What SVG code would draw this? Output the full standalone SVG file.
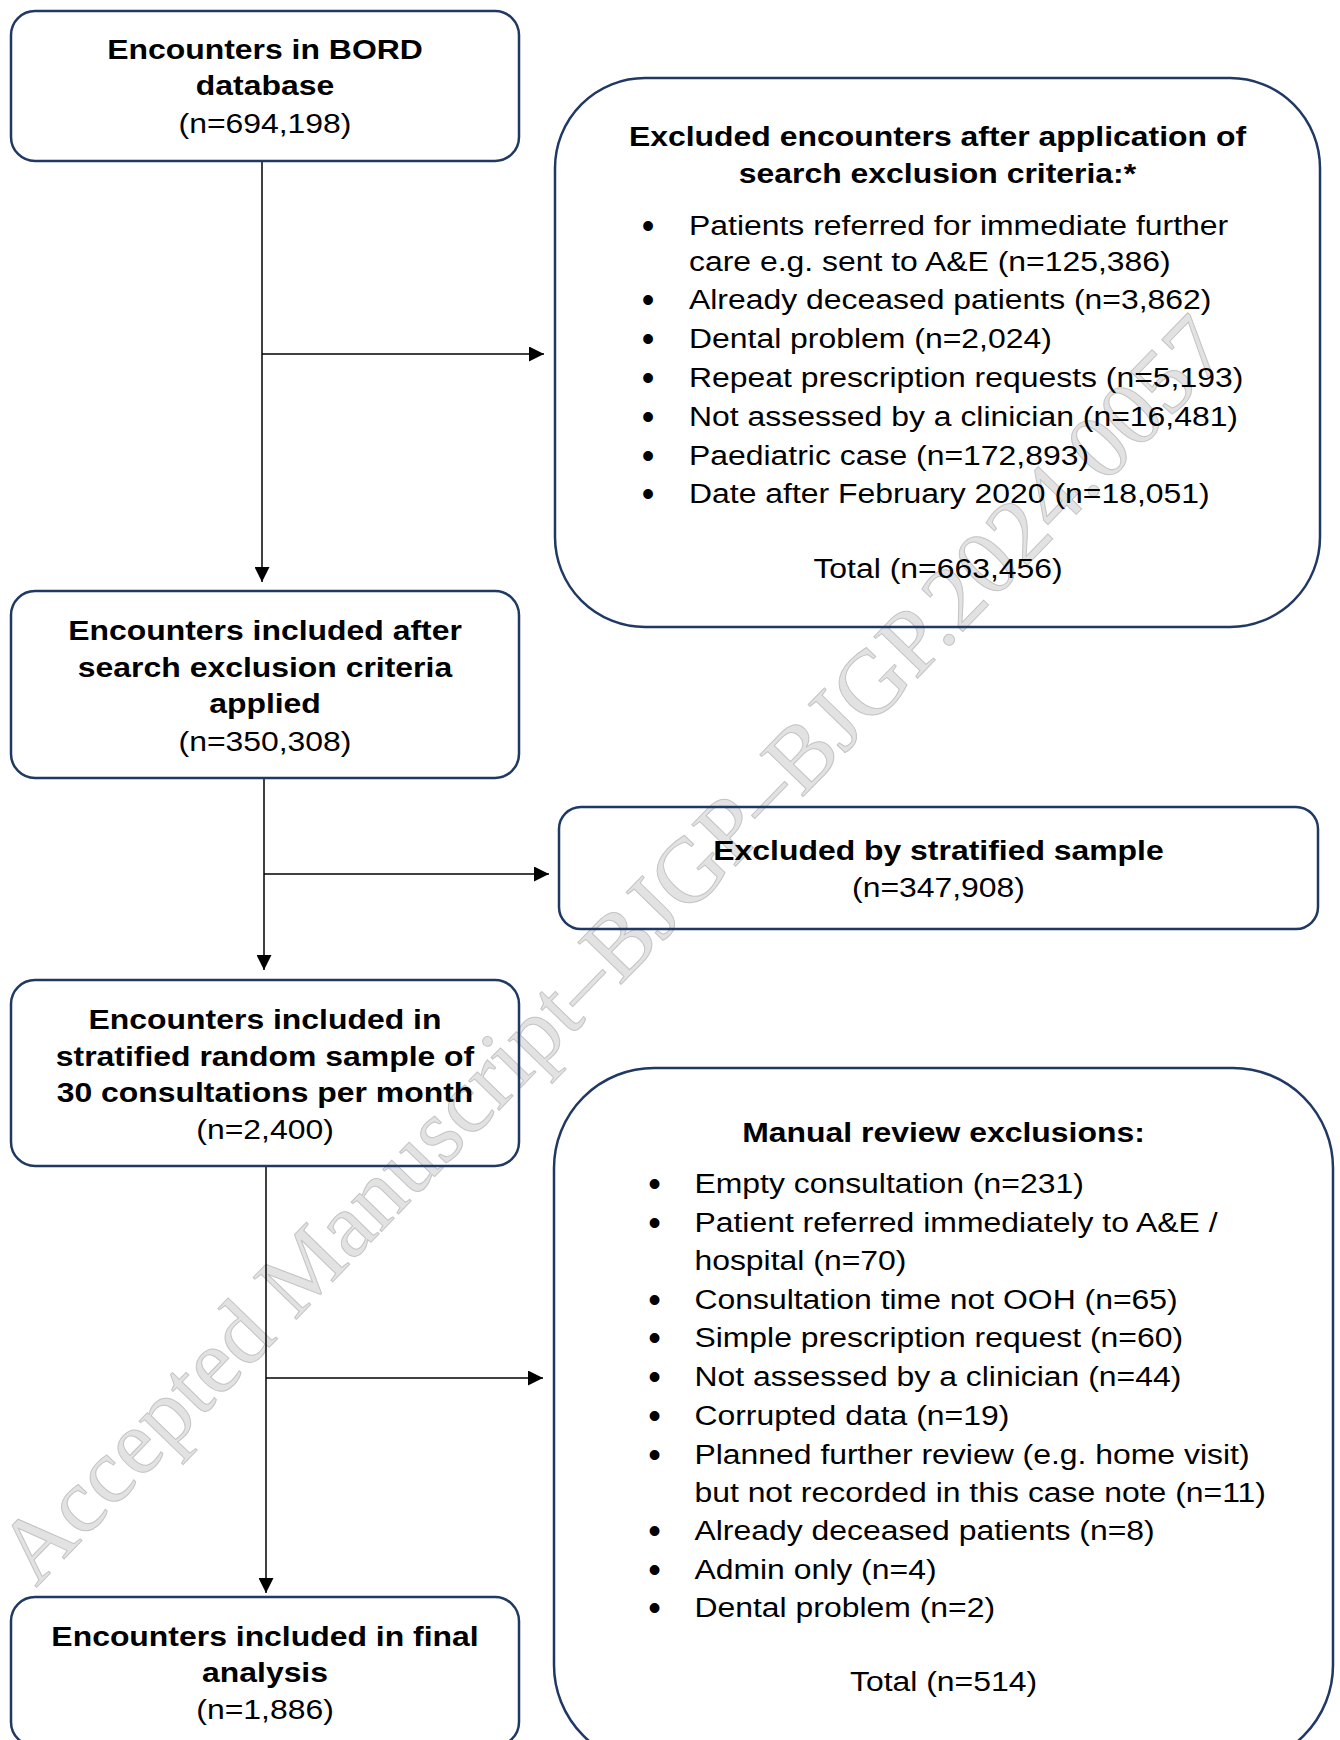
<svg xmlns="http://www.w3.org/2000/svg" width="1340" height="1740" viewBox="0 0 1340 1740">
<style>
.box{fill:none;stroke:#203864;stroke-width:2.5}
.t{font-family:"Liberation Sans",Arial,sans-serif;font-size:28px;fill:#000}
.b{font-weight:bold}
.c{text-anchor:middle}
.bul{font-family:"Liberation Sans",Arial,sans-serif;font-size:36px;fill:#000;text-anchor:middle}
.conn{stroke:#000;stroke-width:1.5;fill:none}
.wm{font-family:"Liberation Serif","Times New Roman",serif;font-size:92px;fill:#e2e2e2;stroke:#c4c4c4;stroke-width:1}
</style>
<defs>
<marker id="ah" markerWidth="15" markerHeight="15" refX="15" refY="7.5" orient="auto" markerUnits="userSpaceOnUse"><path d="M0,0 L15,7.5 L0,15 z" fill="#000"/></marker>
</defs>
<rect x="0" y="0" width="1340" height="1740" fill="#fff"/>
<text class="wm" transform="translate(36 1588) rotate(-45.9)" textLength="1720" lengthAdjust="spacingAndGlyphs">Accepted Manuscript–BJGP–BJGP.2024.0057</text>

<g id="connectors">
<line class="conn" x1="262" y1="161" x2="262" y2="582" marker-end="url(#ah)"/>
<line class="conn" x1="262" y1="354" x2="544" y2="354" marker-end="url(#ah)"/>
<line class="conn" x1="264" y1="778" x2="264" y2="970" marker-end="url(#ah)"/>
<line class="conn" x1="264" y1="874" x2="549" y2="874" marker-end="url(#ah)"/>
<line class="conn" x1="266" y1="1166" x2="266" y2="1593" marker-end="url(#ah)"/>
<line class="conn" x1="266" y1="1378" x2="543" y2="1378" marker-end="url(#ah)"/>
</g>

<g id="n1">
<rect class="box" x="11" y="11" width="508" height="150" rx="24"/>
<text class="t b c" transform="translate(265 59) scale(1.14 1)">Encounters in BORD</text>
<text class="t b c" transform="translate(265 95) scale(1.14 1)">database</text>
<text class="t c" transform="translate(265 132.5) scale(1.14 1)">(n=694,198)</text>
</g>

<g id="x1">
<rect class="box" x="555" y="78" width="765" height="549" rx="90"/>
<text class="t b c" transform="translate(937.5 146) scale(1.14 1)">Excluded encounters after application of</text>
<text class="t b c" transform="translate(937.5 182.7) scale(1.14 1)">search exclusion criteria:*</text>
<text class="bul" x="648" y="238">•</text>
<text class="t" transform="translate(689 235) scale(1.14 1)">Patients referred for immediate further</text>
<text class="t" transform="translate(689 270.5) scale(1.14 1)">care e.g. sent to A&amp;E (n=125,386)</text>
<text class="bul" x="648" y="312.3">•</text>
<text class="t" transform="translate(689 309.3) scale(1.14 1)">Already deceased patients (n=3,862)</text>
<text class="bul" x="648" y="351.1">•</text>
<text class="t" transform="translate(689 348.1) scale(1.14 1)">Dental problem (n=2,024)</text>
<text class="bul" x="648" y="389.9">•</text>
<text class="t" transform="translate(689 386.9) scale(1.14 1)">Repeat prescription requests (n=5,193)</text>
<text class="bul" x="648" y="428.7">•</text>
<text class="t" transform="translate(689 425.7) scale(1.14 1)">Not assessed by a clinician (n=16,481)</text>
<text class="bul" x="648" y="467.5">•</text>
<text class="t" transform="translate(689 464.5) scale(1.14 1)">Paediatric case (n=172,893)</text>
<text class="bul" x="648" y="506.3">•</text>
<text class="t" transform="translate(689 503.3) scale(1.14 1)">Date after February 2020 (n=18,051)</text>
<text class="t c" transform="translate(938 577.6) scale(1.14 1)">Total (n=663,456)</text>
</g>

<g id="n2">
<rect class="box" x="11" y="591" width="508" height="187" rx="24"/>
<text class="t b c" transform="translate(265 639.5) scale(1.14 1)">Encounters included after</text>
<text class="t b c" transform="translate(265 676.5) scale(1.14 1)">search exclusion criteria</text>
<text class="t b c" transform="translate(265 713) scale(1.14 1)">applied</text>
<text class="t c" transform="translate(265 750.5) scale(1.14 1)">(n=350,308)</text>
</g>

<g id="x2">
<rect class="box" x="559" y="807" width="759" height="122" rx="22"/>
<text class="t b c" transform="translate(938.5 860) scale(1.14 1)">Excluded by stratified sample</text>
<text class="t c" transform="translate(938.5 897) scale(1.14 1)">(n=347,908)</text>
</g>

<g id="n3">
<rect class="box" x="11" y="980" width="508" height="186" rx="24"/>
<text class="t b c" transform="translate(265 1029) scale(1.14 1)">Encounters included in</text>
<text class="t b c" transform="translate(265 1065.5) scale(1.14 1)">stratified random sample of</text>
<text class="t b c" transform="translate(265 1102) scale(1.14 1)">30 consultations per month</text>
<text class="t c" transform="translate(265 1138.5) scale(1.14 1)">(n=2,400)</text>
</g>

<g id="x3">
<rect class="box" x="554" y="1068" width="779" height="697" rx="100"/>
<text class="t b c" transform="translate(943.5 1142) scale(1.14 1)">Manual review exclusions:</text>
<text class="bul" x="654.5" y="1196">•</text>
<text class="t" transform="translate(694.4 1193) scale(1.14 1)">Empty consultation (n=231)</text>
<text class="bul" x="654.5" y="1234.8">•</text>
<text class="t" transform="translate(694.4 1231.8) scale(1.14 1)">Patient referred immediately to A&amp;E /</text>
<text class="t" transform="translate(694.4 1269.5) scale(1.14 1)">hospital (n=70)</text>
<text class="bul" x="654.5" y="1311.5">•</text>
<text class="t" transform="translate(694.4 1308.5) scale(1.14 1)">Consultation time not OOH (n=65)</text>
<text class="bul" x="654.5" y="1350.2">•</text>
<text class="t" transform="translate(694.4 1347.2) scale(1.14 1)">Simple prescription request (n=60)</text>
<text class="bul" x="654.5" y="1389">•</text>
<text class="t" transform="translate(694.4 1386) scale(1.14 1)">Not assessed by a clinician (n=44)</text>
<text class="bul" x="654.5" y="1427.9">•</text>
<text class="t" transform="translate(694.4 1424.9) scale(1.14 1)">Corrupted data (n=19)</text>
<text class="bul" x="654.5" y="1466.7">•</text>
<text class="t" transform="translate(694.4 1463.7) scale(1.14 1)">Planned further review (e.g. home visit)</text>
<text class="t" transform="translate(694.4 1501.5) scale(1.14 1)">but not recorded in this case note (n=11)</text>
<text class="bul" x="654.5" y="1543.2">•</text>
<text class="t" transform="translate(694.4 1540.2) scale(1.14 1)">Already deceased patients (n=8)</text>
<text class="bul" x="654.5" y="1582.1">•</text>
<text class="t" transform="translate(694.4 1579.1) scale(1.14 1)">Admin only (n=4)</text>
<text class="bul" x="654.5" y="1619.8">•</text>
<text class="t" transform="translate(694.4 1616.8) scale(1.14 1)">Dental problem (n=2)</text>
<text class="t c" transform="translate(943.5 1691) scale(1.14 1)">Total (n=514)</text>
</g>

<g id="n4">
<rect class="box" x="11" y="1597" width="508" height="149" rx="24"/>
<text class="t b c" transform="translate(265 1646) scale(1.14 1)">Encounters included in final</text>
<text class="t b c" transform="translate(265 1682) scale(1.14 1)">analysis</text>
<text class="t c" transform="translate(265 1718.5) scale(1.14 1)">(n=1,886)</text>
</g>
</svg>
